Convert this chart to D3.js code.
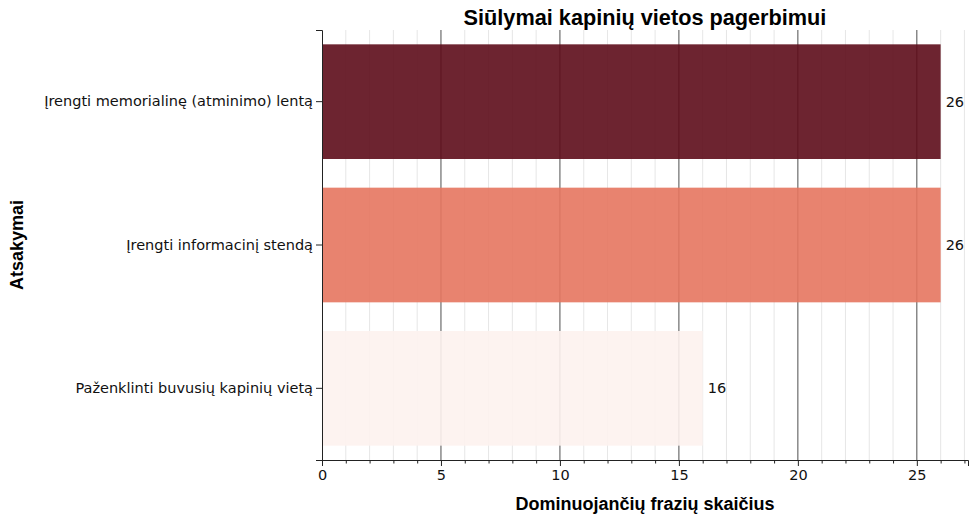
<!DOCTYPE html>
<html>
<head>
<meta charset="utf-8">
<script src="https://cdn.jsdelivr.net/npm/d3@7"></script>
<style>
  body { margin: 0; background: #fff; }
  svg { display: block; }
</style>
</head>
<body>
<div id="chart"></div>
<script>
var width = 969;
var height = 514;

// data
var categories = ["Įrengti memorialinę (atminimo) lentą", "Įrengti informacinį stendą", "Paženklinti buvusių kapinių vietą"];
var values = [26, 26, 16];
var barColors = ["#5d0c19", "#e5765f", "#fdf2ee"];
var xTicks = [0, 5, 10, 15, 20, 25];

var margin = { top: 30, right: 1, bottom: 54, left: 322 };
var innerW = width - margin.left - margin.right;
var innerH = height - margin.top - margin.bottom;

var svg = d3.select("#chart")
    .append("svg")
    .attr("width", width)
    .attr("height", height);

var g = svg.append("g")
    .attr("transform", "translate(" + margin.left + "," + margin.top + ")");

var x = d3.scaleLinear()
    .domain([0, 27.15])
    .range([0, innerW]);

var y = d3.scaleBand()
    .domain(categories)
    .range([0, innerH])
    .paddingInner(0.2)
    .paddingOuter(0.1);

var minorTicks = d3.range(1, 28).filter(function(d) { return d % 5 != 0; });

// minor grid every 1
g.append("g")
    .selectAll("line")
    .data(minorTicks)
    .enter()
    .append("line")
    .attr("x1", function(d) { return x(d); })
    .attr("x2", function(d) { return x(d); })
    .attr("y1", 0)
    .attr("y2", innerH)
    .style("stroke", "#e0e0e0")
    .style("stroke-width", 0.8);

// major grid
g.append("g")
    .selectAll("line")
    .data(xTicks.slice(1))
    .enter()
    .append("line")
    .attr("x1", function(d) { return x(d); })
    .attr("x2", function(d) { return x(d); })
    .attr("y1", 0)
    .attr("y2", innerH)
    .style("stroke", "#3a3a3a")
    .style("stroke-width", 0.9);

// bars
g.selectAll(".bar")
    .data(categories)
    .enter()
    .append("rect")
    .attr("class", "bar")
    .attr("x", x(0))
    .attr("y", function(d) { return y(d); })
    .attr("width", function(d, i) { return x(values[i]) - x(0); })
    .attr("height", y.bandwidth())
    .style("fill", function(d, i) { return barColors[i]; })
    .style("fill-opacity", 0.9);

// value labels
g.selectAll(".val")
    .data(categories)
    .enter()
    .append("text")
    .attr("x", function(d, i) { return x(values[i]) + 5; })
    .attr("y", function(d) { return y(d) + y.bandwidth() / 2; })
    .attr("dy", "0.35em")
    .style("font-family", "DejaVu Sans")
    .style("font-size", "14.5px")
    .style("fill", "#111")
    .text(function(d, i) { return values[i]; });

// x axis, major + minor ticks
var xAxis = g.append("g")
    .attr("transform", "translate(0," + innerH + ")")
    .call(d3.axisBottom(x).tickValues(xTicks).tickSize(6).tickPadding(4));

g.append("g")
    .attr("transform", "translate(0," + innerH + ")")
    .call(d3.axisBottom(x).tickValues(minorTicks).tickSize(3.5).tickFormat(""))
    .call(function(s) { s.select(".domain").remove(); });

var yAxis = g.append("g")
    .call(d3.axisLeft(y).tickSize(6).tickPadding(3));

svg.selectAll(".domain").style("stroke", "#222").style("stroke-width", 1);
svg.selectAll(".tick line").style("stroke", "#222");
xAxis.selectAll("text")
    .style("font-family", "DejaVu Sans")
    .style("font-size", "14.5px")
    .style("fill", "#111");
yAxis.selectAll("text")
    .style("font-family", "DejaVu Sans")
    .style("font-size", "14.5px")
    .style("fill", "#111");

// title
svg.append("text")
    .attr("x", margin.left + innerW / 2)
    .attr("y", 25)
    .attr("text-anchor", "middle")
    .style("font-family", "Liberation Sans, Arial")
    .style("font-weight", "bold")
    .style("font-size", "21.7px")
    .text("Siūlymai kapinių vietos pagerbimui");

// x label
svg.append("text")
    .attr("x", margin.left + innerW / 2)
    .attr("y", 510)
    .attr("text-anchor", "middle")
    .style("font-family", "Liberation Sans, Arial")
    .style("font-weight", "bold")
    .style("font-size", "18px")
    .text("Dominuojančių frazių skaičius");

// y label
svg.append("text")
    .attr("transform", "translate(23," + (margin.top + innerH / 2) + ") rotate(-90)")
    .attr("text-anchor", "middle")
    .style("font-family", "Liberation Sans, Arial")
    .style("font-weight", "bold")
    .style("font-size", "18px")
    .text("Atsakymai");
</script>
</body>
</html>
